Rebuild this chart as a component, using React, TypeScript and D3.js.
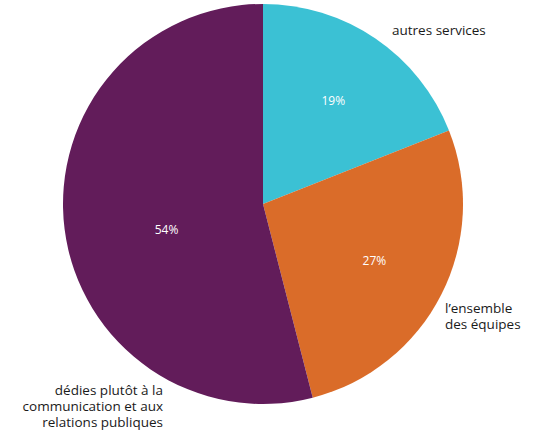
import React from 'react';
import * as d3 from 'd3';

const categories = ['autres services', "l’ensemble des équipes", 'dédies plutôt à la communication et aux relations publiques'];
const values = [19, 27, 54];
const colors = ['#3bc1d4', '#da6c29', '#621c5a'];
const outerLabels = [['autres services'], ['l’ensemble', 'des équipes'], ['dédies plutôt à la', 'communication et aux', 'relations publiques']];

const width = 539;
const height = 432;
const cx = 263;
const cy = 204;
const radius = 200;

// where the outer text sits (x, first baseline, anchor)
const outerPos: [number, number, string][] = [
  [392, 35, 'start'],
  [445, 313, 'start'],
  [163, 395, 'end'],
];
const pctRadius = [125, 125, 100];
const pctShift = [0, 0, -0.14];

export default function App() {
  const pie = d3.pie<number>().sort(null).value(d => d);
  const arcs = pie(values);
  const arc = d3.arc<d3.PieArcDatum<number>>().innerRadius(0).outerRadius(radius);

  return (
    <svg width={width} height={height} style={{ position: 'absolute', left: 0, top: 0 }}>
      <g transform={`translate(${cx},${cy})`}>
        {arcs.map((a, i) => (
          <path key={categories[i]} d={arc(a) || ''} fill={colors[i]} />
        ))}
        {arcs.map((a, i) => {
          const mid = (a.startAngle + a.endAngle) / 2 + pctShift[i];
          const x = Math.sin(mid) * pctRadius[i];
          const y = -Math.cos(mid) * pctRadius[i];
          return (
            <text key={'p' + i} x={x} y={y} dy="0.35em" textAnchor="middle" fill="#fff"
              fontFamily="'Open Sans', sans-serif" fontSize={12}>
              {values[i]}%
            </text>
          );
        })}
      </g>
      {outerLabels.map((lines, i) =>
        lines.map((t, j) => (
          <text key={'l' + i + '-' + j} x={outerPos[i][0]} y={outerPos[i][1] + j * 16}
            textAnchor={outerPos[i][2] as any}
            fill="#1a1a1a" fontFamily="'Open Sans', sans-serif" fontSize={13.5}>
            {t}
          </text>
        ))
      )}
    </svg>
  );
}
